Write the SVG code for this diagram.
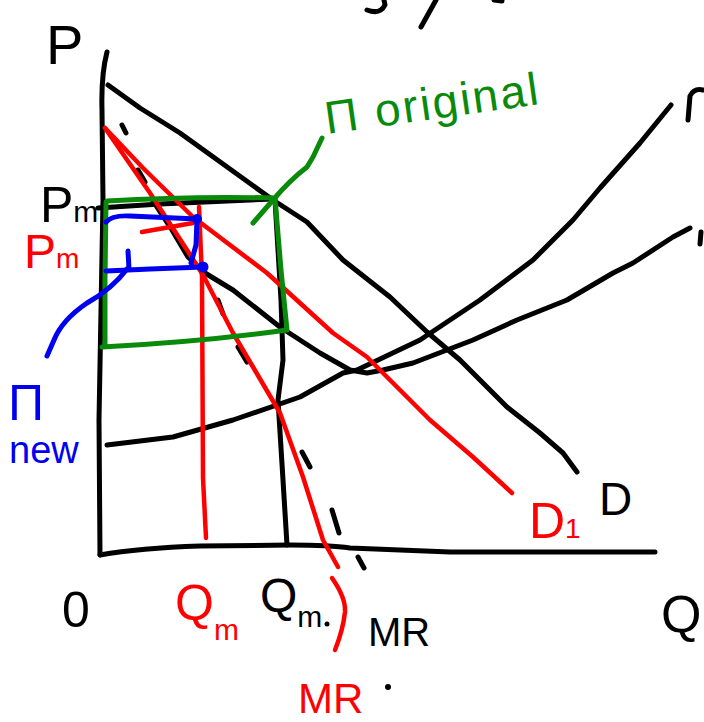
<svg xmlns="http://www.w3.org/2000/svg" width="704" height="722" viewBox="0 0 704 722">
<style>
.k{fill:none;stroke:#000;stroke-width:5;stroke-linecap:round;stroke-linejoin:round}
.r{fill:none;stroke:#f00;stroke-width:4.5;stroke-linecap:round;stroke-linejoin:round}
.g{fill:none;stroke:#0a8a0a;stroke-width:5;stroke-linecap:round;stroke-linejoin:round}
.b{fill:none;stroke:#0000f0;stroke-width:5;stroke-linecap:round;stroke-linejoin:round}
text{font-family:"Liberation Sans","DejaVu Sans",sans-serif}
.tk{fill:#000}.tr{fill:#f00}.tg{fill:#0a8a0a}.tb{fill:#0000f0}
</style>
<rect width="704" height="722" fill="#fff"/>
<g id="fragments">
<path class="k" d="M367,10 Q380,15 385,5 L384,0"/>
<path class="k" d="M421,27 L436,0"/>
<path class="k" d="M494,0 L502,1"/>
<path class="k" d="M688,120 L690,96 Q694,88 703,90"/>
<path class="k" d="M701,232 L700,244"/>
</g>
<g id="axes">
<path class="k" d="M107,52 Q101,75 102,110 L103,200 L99,420 L100,555"/>
<path class="k" d="M100,555 Q140,548 200,546 L290,545 Q330,545 350,548 L450,552 L655,552"/>
</g>
<g id="connectors">
<path class="k" d="M108,85 L140,108 L180,133 L273,200 L307,222 L343,260 L390,297 L427,332 L460,360 L507,407 L540,433 L563,453 L577,472"/>
<path class="k" d="M107,445 L173,437 L233,420 L300,397 L343,373 L357,370 L420,340 L480,300 L533,260 L573,220 L600,188 L640,143 L671,105"/>
<path class="k" d="M153,201 L172,230 L188,257 L205,273 L233,290 L280,327 L320,353 L350,370 L367,373 L383,370 L413,363 L473,340 L517,320 L567,300 L613,273 L633,263 L673,237 L690,228"/>
<path class="k" d="M98,208 L160,204 L273,199"/>
<path class="k" d="M275,200 L281,300 L283,360 L278,400 L283,480 L287,545"/>
<path class="k" d="M122,125 L126,133 M138,170 L145,182 M218,300 L223,314 M238,347 L247,362 M302,452 L310,467 M332,510 L339,533 M358,557 L364,568"/>
<path class="r" d="M105,128 L143,168 L193,217 L267,273 L333,333 L367,357 L400,390 L430,420 L473,457 L512,493"/>
<path class="r" d="M105,128 L150,193 L187,250 L203,275 L233,333 L253,367 L280,413 L303,477 L323,540 L338,567"/>
<path class="r" d="M332,578 Q346,598 345,612 Q343,630 335,650"/>
<path class="r" d="M199,207 L202,277 L203,478 L206,538"/>
<path class="r" d="M142,232 L193,223"/>
<path class="g" d="M107,201 Q190,196 275,198 L281,270 L287,330 Q200,342 102,347 M106,202 L105,280 L105,347"/>
<path class="g" d="M253,223 L273,200 Q290,180 307,167 L313,157 L322,138"/>
<path class="b" d="M106,222 Q112,215 130,216 L197,219 L196,245 L191,263"/>
<path class="b" d="M106,271 L150,269 L203,267"/>
<path class="b" d="M128,251 L129,269"/>
<path class="b" d="M127,269 Q112,289 87,303 Q62,320 54,340 L47,356"/>
<circle cx="197" cy="219" r="5" fill="#0000f0"/>
<circle cx="203" cy="267" r="5.5" fill="#0000f0"/>
</g>
<g id="label-P"><text class="tk" x="46" y="64" font-size="56">P</text></g>
<g id="label-Pm-black"><text class="tk" x="40" y="222" font-size="50">P<tspan font-size="30">m</tspan></text></g>
<g id="label-Pm-red"><text class="tr" x="24" y="268" font-size="48">P<tspan font-size="28">m</tspan></text></g>
<g id="label-pi-new"><text class="tb" x="8" y="420" font-size="50">Π</text><text class="tb" x="9" y="463" font-size="38">new</text></g>
<g id="label-pi-original"><text class="tg" x="327" y="134" font-size="46" textLength="215" transform="rotate(-8 327 134)">Π original</text></g>
<g id="label-O"><text class="tk" x="62" y="627" font-size="50">0</text></g>
<g id="label-Qm-red"><text class="tr" x="175" y="620" font-size="50">Q<tspan font-size="30" dy="20">m</tspan></text></g>
<g id="label-QM-black"><text class="tk" x="260" y="612" font-size="48">Q<tspan font-size="30" dy="15">m</tspan></text><circle cx="327" cy="624" r="2.5" fill="#000"/></g>
<g id="label-MR-black"><text class="tk" x="368" y="646" font-size="40">MR</text></g>
<g id="label-MR-red"><text class="tr" x="298" y="713" font-size="42">MR</text><circle cx="388" cy="687" r="3" fill="#000"/></g>
<g id="label-D"><text class="tk" x="599" y="515" font-size="46">D</text></g>
<g id="label-D1"><text class="tr" x="529" y="538" font-size="50">D<tspan font-size="28">1</tspan></text></g>
<g id="label-Q"><text class="tk" x="661" y="632" font-size="52">Q</text></g>
</svg>
